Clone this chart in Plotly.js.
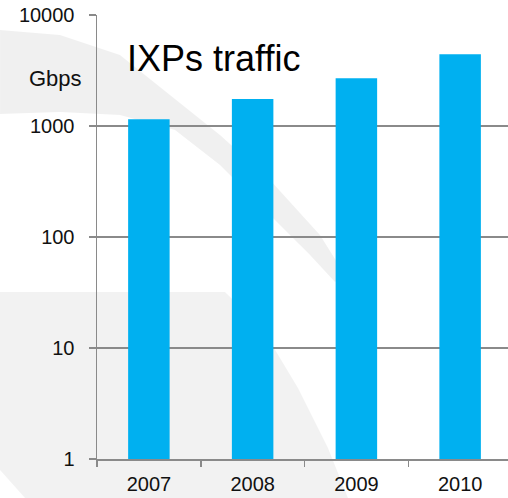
<!DOCTYPE html>
<html>
<head>
<meta charset="utf-8">
<script src="https://cdn.plot.ly/plotly-3.0.1.min.js"></script>
<style>
  html, body { margin: 0; padding: 0; background: #ffffff; overflow: hidden; }
  #chart { width: 512px; height: 498px; }
</style>
</head>
<body>
<div id="chart"></div>
<script>
// ---- data ----
const years = ["2007", "2008", "2009", "2010"];
const trafficGbps = [1150, 1750, 2690, 4430];
const yTickVals = [1, 10, 100, 1000, 10000];
const yTickText = ["1", "10", "100", "1000", "10000"];
const chartTitle = "IXPs traffic";
const unitLabel = "Gbps";

// ---- layout geometry (pixels) ----
const W = 512, H = 498;
const M = { l: 97, r: 0, t: 15, b: 39 };
const PW = W - M.l - M.r, PH = H - M.t - M.b;
const px = x => (x - M.l) / PW;
const py = y => (H - M.b - y) / PH;
function pathFrom(points) {
  return points.map((p, i) => (i ? "L" : "M") + px(p[0]).toFixed(4) + "," + py(p[1]).toFixed(4)).join(" ") + " Z";
}

// decorative background swooshes
const bandPts = [[0,30],[60,35],[120,55],[170,95],[220,135],[270,180],[320,235],[345,275],
                 [335,282],[310,255],[265,210],[220,165],[175,130],[120,115],[60,112],[0,114]];
const lowerPts = [[0,292],[225,292],[262,328],[298,388],[328,448],[348,498],[25,498],[0,470]];

const fontFam = "Arial, 'Liberation Sans', sans-serif";
const lineCol = "#8a8a8a";

const trace = {
  type: "bar",
  x: years,
  y: trafficGbps,
  marker: { color: "#00B0F0" },
  hoverinfo: "x+y"
};

const layout = {
  width: W, height: H,
  margin: M,
  paper_bgcolor: "#ffffff",
  plot_bgcolor: "rgba(0,0,0,0)",
  showlegend: false,
  bargap: 0.6,
  font: { family: fontFam, color: "#111111" },
  xaxis: {
    type: "category",
    tickson: "boundaries",
    ticks: "outside",
    ticklen: 6,
    tickwidth: 1.5,
    tickcolor: lineCol,
    showline: true,
    linecolor: lineCol,
    linewidth: 1.5,
    showgrid: false,
    tickfont: { family: fontFam, size: 20, color: "#111111" },
    ticklabelstandoff: 6,
    fixedrange: true
  },
  yaxis: {
    type: "log",
    range: [0, 4],
    tickmode: "array",
    tickvals: yTickVals,
    ticktext: yTickText,
    ticks: "outside",
    ticklen: 7,
    tickwidth: 1.5,
    tickcolor: lineCol,
    showline: true,
    linecolor: lineCol,
    linewidth: 1.5,
    showgrid: true,
    gridcolor: lineCol,
    gridwidth: 1.5,
    zeroline: false,
    tickfont: { family: fontFam, size: 20, color: "#111111" },
    ticklabelstandoff: 10,
    fixedrange: true
  },
  shapes: [
    { type: "path", xref: "paper", yref: "paper", path: pathFrom(bandPts),
      fillcolor: "rgba(0,0,0,0.06)", line: { width: 0 }, layer: "below" },
    { type: "path", xref: "paper", yref: "paper", path: pathFrom(lowerPts),
      fillcolor: "rgba(0,0,0,0.05)", line: { width: 0 }, layer: "below" }
  ],
  annotations: [
    { text: chartTitle, xref: "paper", yref: "paper", x: px(125), y: py(59),
      xanchor: "left", yanchor: "middle", showarrow: false,
      font: { family: fontFam, size: 36, color: "#000000" } },
    { text: unitLabel, xref: "paper", yref: "paper", x: px(27), y: py(78),
      xanchor: "left", yanchor: "middle", showarrow: false,
      font: { family: fontFam, size: 22, color: "#111111" } }
  ]
};

Plotly.newPlot("chart", [trace], layout, { displayModeBar: false, staticPlot: true });
</script>
</body>
</html>
